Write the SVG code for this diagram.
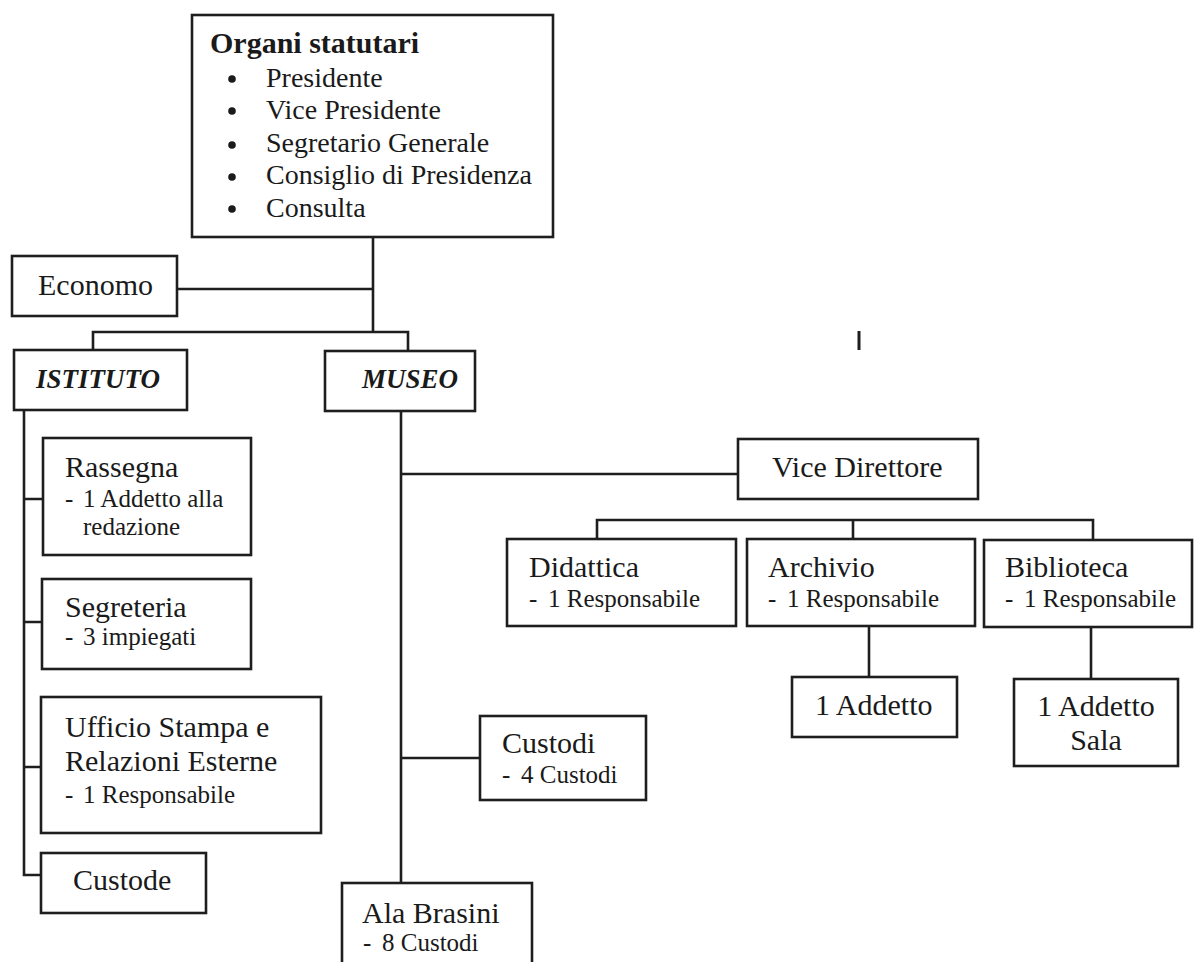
<svg xmlns="http://www.w3.org/2000/svg" width="1196" height="962" viewBox="0 0 1196 962">
<style>
.box{fill:#fff;stroke:#1e1e1e;stroke-width:2.6}
.ln{fill:none;stroke:#1e1e1e;stroke-width:2.6}
text{font-family:"Liberation Serif","Times New Roman",serif;fill:#1a1a1a}
.t{font-size:30px}
.s{font-size:25px}
.i{font-size:28px}
.h{font-size:30px;font-weight:bold}
.bi{font-size:27px;font-weight:bold;font-style:italic}
.dot{fill:#1a1a1a}
</style>
<rect width="1196" height="962" fill="#fff"/>
<g id="connectors">
<path class="ln" d="M373 237V332"/>
<path class="ln" d="M177 289H373"/>
<path class="ln" d="M93 350V332H408V351"/>
<path class="ln" d="M24 410V875H41"/>
<path class="ln" d="M24 499H43M24 622H42M24 767H41"/>
<path class="ln" d="M401 411V883"/>
<path class="ln" d="M401 474H738"/>
<path class="ln" d="M401 758H480"/>
<path class="ln" d="M597 539V520H1093V540M853 520V539"/>
<path class="ln" d="M869 626V677"/>
<path class="ln" d="M1091 627V679"/>
<path d="M859 331V350" stroke="#1e1e1e" stroke-width="3"/>
</g>
<g id="organi">
<rect class="box" x="192" y="15" width="361" height="222"/>
<text class="h" x="210" y="53">Organi statutari</text>
<circle class="dot" cx="232" cy="79" r="3.8"/><text class="i" x="266" y="87">Presidente</text>
<circle class="dot" cx="232" cy="111" r="3.8"/><text class="i" x="266" y="119">Vice Presidente</text>
<circle class="dot" cx="232" cy="145" r="3.8"/><text class="i" x="266" y="152">Segretario Generale</text>
<circle class="dot" cx="232" cy="177" r="3.8"/><text class="i" x="266" y="184">Consiglio di Presidenza</text>
<circle class="dot" cx="232" cy="209" r="3.8"/><text class="i" x="266" y="217">Consulta</text>
</g>
<g id="economo">
<rect class="box" x="12" y="256" width="165" height="60"/>
<text class="t" x="38" y="295">Economo</text>
</g>
<g id="istituto">
<rect class="box" x="14" y="350" width="173" height="60"/>
<text class="bi" x="36" y="388">ISTITUTO</text>
</g>
<g id="museo">
<rect class="box" x="325" y="351" width="150" height="60"/>
<text class="bi" x="362" y="388">MUSEO</text>
</g>
<g id="rassegna">
<rect class="box" x="43" y="438" width="208" height="117"/>
<text class="t" x="65" y="477">Rassegna</text>
<text class="s" x="65" y="507">-</text><text class="s" x="83" y="507">1 Addetto alla</text>
<text class="s" x="83" y="535">redazione</text>
</g>
<g id="segreteria">
<rect class="box" x="42" y="579" width="209" height="90"/>
<text class="t" x="65" y="617">Segreteria</text>
<text class="s" x="65" y="645">-</text><text class="s" x="83" y="645">3 impiegati</text>
</g>
<g id="ufficio">
<rect class="box" x="41" y="697" width="280" height="136"/>
<text class="t" x="65" y="737">Ufficio Stampa e</text>
<text class="t" x="65" y="771">Relazioni Esterne</text>
<text class="s" x="65" y="803">-</text><text class="s" x="83" y="803">1 Responsabile</text>
</g>
<g id="custode">
<rect class="box" x="41" y="853" width="165" height="60"/>
<text class="t" x="73" y="890">Custode</text>
</g>
<g id="custodi">
<rect class="box" x="480" y="716" width="166" height="84"/>
<text class="t" x="502" y="753">Custodi</text>
<text class="s" x="502" y="783">-</text><text class="s" x="521" y="783">4 Custodi</text>
</g>
<g id="ala-brasini">
<rect class="box" x="342" y="883" width="190" height="100"/>
<text class="t" x="362" y="923">Ala Brasini</text>
<text class="s" x="363" y="951">-</text><text class="s" x="382" y="951">8 Custodi</text>
</g>
<g id="vice-direttore">
<rect class="box" x="738" y="439" width="240" height="60"/>
<text class="t" x="772" y="477">Vice Direttore</text>
</g>
<g id="didattica">
<rect class="box" x="507" y="539" width="229" height="87"/>
<text class="t" x="529" y="577">Didattica</text>
<text class="s" x="529" y="607">-</text><text class="s" x="548" y="607">1 Responsabile</text>
</g>
<g id="archivio">
<rect class="box" x="747" y="539" width="228" height="87"/>
<text class="t" x="768" y="577">Archivio</text>
<text class="s" x="768" y="607">-</text><text class="s" x="787" y="607">1 Responsabile</text>
</g>
<g id="biblioteca">
<rect class="box" x="984" y="540" width="208" height="87"/>
<text class="t" x="1005" y="577">Biblioteca</text>
<text class="s" x="1005" y="607">-</text><text class="s" x="1024" y="607">1 Responsabile</text>
</g>
<g id="addetto">
<rect class="box" x="792" y="677" width="165" height="60"/>
<text class="t" x="815" y="715">1 Addetto</text>
</g>
<g id="addetto-sala">
<rect class="box" x="1014" y="679" width="164" height="87"/>
<text class="t" x="1096" y="716" text-anchor="middle">1 Addetto</text>
<text class="t" x="1096" y="750" text-anchor="middle">Sala</text>
</g>
</svg>
